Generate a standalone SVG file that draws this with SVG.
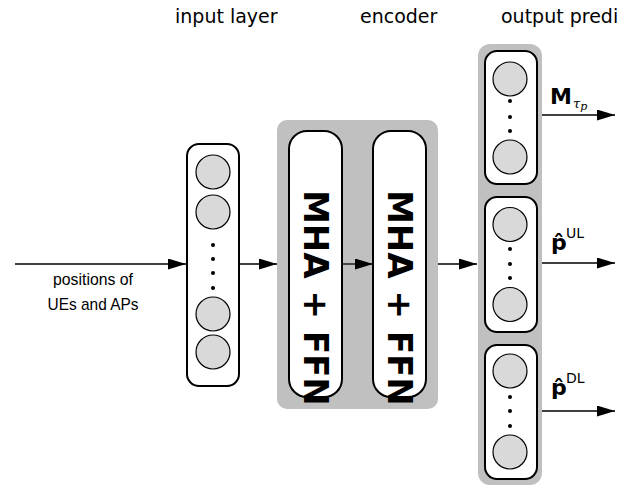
<svg xmlns="http://www.w3.org/2000/svg" width="638" height="489" viewBox="0 0 638 489">
  <style>
    .hdr { font-family: "DejaVu Sans", sans-serif; font-size: 19px; fill: #000; }
    .lbl { font-family: "Liberation Sans", Arial, sans-serif; font-size: 17px; fill: #000; text-anchor: middle; }
    .panel { fill: #c0c0c0; stroke: none; }
    .box { fill: #fff; stroke: #000; stroke-width: 2; }
    .unit { fill: #d9d9d9; stroke: #000; stroke-width: 1.2; }
    .dot { fill: #000; }
    .blk { font-family: "DejaVu Sans", sans-serif; font-weight: bold; font-size: 34px; fill: #000; }
    .out { font-family: "DejaVu Sans", sans-serif; font-weight: bold; font-size: 22px; fill: #000; }
    .sup { font-family: "DejaVu Sans", sans-serif; font-size: 14px; fill: #000; }
    .sub { font-family: "DejaVu Serif", serif; font-style: italic; font-size: 13px; fill: #000; }
    .conn { stroke: #000; stroke-width: 1.3; fill: none; marker-end: url(#arrow); }
  </style>
  <defs>
    <marker id="arrow" markerUnits="userSpaceOnUse" markerWidth="18" markerHeight="12" refX="18" refY="5.5" orient="auto">
      <path d="M0,0 L18,5.5 L0,11 z" fill="#000"/>
    </marker>
  </defs>

  <!-- column headers -->
  <text class="hdr" x="175" y="23">input layer</text>
  <text class="hdr" x="360" y="23">encoder</text>
  <text class="hdr" x="501" y="23">output predi</text>

  <!-- input layer -->
  <g id="input-layer">
    <rect class="box" x="187" y="144" width="52" height="242" rx="12"/>
    <circle class="unit" cx="213" cy="172" r="17"/>
    <circle class="unit" cx="213" cy="212" r="17"/>
    <circle class="dot" cx="213" cy="245" r="2"/>
    <circle class="dot" cx="213" cy="259" r="2"/>
    <circle class="dot" cx="213" cy="273" r="2"/>
    <circle class="dot" cx="213" cy="288" r="2"/>
    <circle class="unit" cx="213" cy="314" r="17"/>
    <circle class="unit" cx="213" cy="352" r="17"/>
  </g>

  <!-- encoder -->
  <g id="encoder">
    <rect class="panel" x="277" y="120" width="161" height="289" rx="10"/>
  </g>
  <g id="encoder-block-1">
    <rect class="box" x="289" y="131" width="53" height="266" rx="18"/>
    <text class="blk" transform="translate(304,190) rotate(90)">MHA + FFN</text>
  </g>
  <g id="encoder-block-2">
    <rect class="box" x="373" y="131" width="53" height="266" rx="18"/>
    <text class="blk" transform="translate(388,190) rotate(90)">MHA + FFN</text>
  </g>

  <!-- output heads -->
  <g id="output">
    <rect class="panel" x="478" y="44" width="64" height="441" rx="12"/>
  </g>
  <g id="head-m">
    <rect class="box" x="485" y="51" width="52" height="133" rx="12"/>
    <circle class="unit" cx="510" cy="79" r="17"/>
    <circle class="dot" cx="510" cy="101" r="2"/>
    <circle class="dot" cx="510" cy="117" r="2"/>
    <circle class="dot" cx="510" cy="131" r="2"/>
    <circle class="unit" cx="510" cy="157" r="17"/>
  </g>
  <g id="head-ul">
    <rect class="box" x="485" y="197" width="52" height="135" rx="12"/>
    <circle class="unit" cx="510" cy="224.5" r="17"/>
    <circle class="dot" cx="510" cy="249" r="2"/>
    <circle class="dot" cx="510" cy="264" r="2"/>
    <circle class="dot" cx="510" cy="278" r="2"/>
    <circle class="unit" cx="510" cy="304.5" r="17"/>
  </g>
  <g id="head-dl">
    <rect class="box" x="485" y="345" width="52" height="134" rx="12"/>
    <circle class="unit" cx="510" cy="371" r="17"/>
    <circle class="dot" cx="510" cy="397" r="2"/>
    <circle class="dot" cx="510" cy="411" r="2"/>
    <circle class="dot" cx="510" cy="426" r="2"/>
    <circle class="unit" cx="510" cy="452" r="17"/>
  </g>

  <!-- connectors -->
  <g id="connectors">
    <line class="conn" x1="15" y1="264" x2="186" y2="264"/>
    <line class="conn" x1="239" y1="264" x2="277" y2="264"/>
    <line class="conn" x1="342" y1="264" x2="373" y2="264"/>
    <line class="conn" x1="438" y1="264" x2="477" y2="264"/>
    <line class="conn" x1="542" y1="115" x2="615" y2="115"/>
    <line class="conn" x1="542" y1="263" x2="615" y2="263"/>
    <line class="conn" x1="542" y1="411" x2="615" y2="411"/>
  </g>

  <!-- connector labels (condensed to fit under the input arrow) -->
  <text class="lbl" x="93" y="285" textLength="80" lengthAdjust="spacingAndGlyphs">positions of</text>
  <text class="lbl" x="93" y="310" textLength="91" lengthAdjust="spacingAndGlyphs">UEs and APs</text>

  <text class="out" x="550" y="104">M</text>
  <text class="sub" x="573" y="108">τ<tspan font-size="11" dy="2">p</tspan></text>

  <text class="out" x="551" y="250">p̂</text>
  <text class="sup" x="566" y="238">UL</text>

  <text class="out" x="551" y="395">p̂</text>
  <text class="sup" x="566" y="383">DL</text>
</svg>
